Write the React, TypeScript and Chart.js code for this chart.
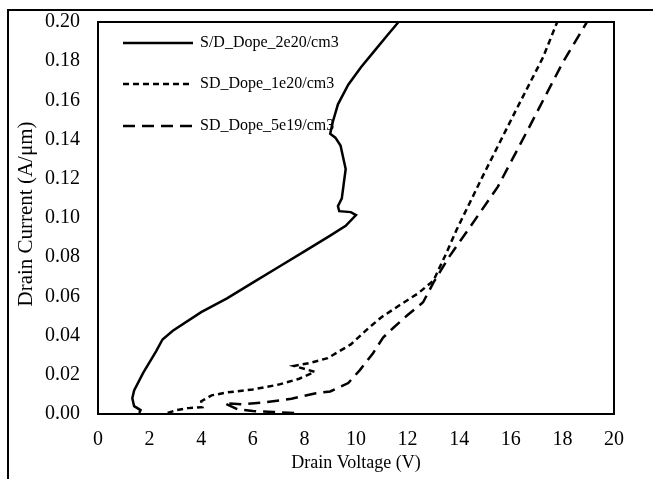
import React, { useEffect, useRef } from "react";
import { Chart, registerables } from "chart.js";

Chart.register(...registerables);

// ---- data ----
const seriesLabels = ["S/D_Dope_2e20/cm3", "SD_Dope_1e20/cm3", "SD_Dope_5e19/cm3"];

const dope2e20X = [1.6, 1.65, 1.4, 1.33, 1.4, 1.75, 2.25, 2.5, 2.9, 4.0, 5.0, 6.0, 7.0, 8.0, 9.0, 9.6, 10.0, 9.8, 9.35, 9.3, 9.45, 9.6, 9.4, 9.2, 9.0, 9.1, 9.3, 9.7, 10.2, 10.7, 11.2, 11.65];
const dope2e20Y = [0.0005, 0.002, 0.004, 0.008, 0.012, 0.021, 0.032, 0.038, 0.0425, 0.052, 0.059, 0.067, 0.075, 0.083, 0.091, 0.096, 0.1015, 0.103, 0.1035, 0.106, 0.11, 0.125, 0.137, 0.141, 0.143, 0.149, 0.158, 0.168, 0.177, 0.185, 0.193, 0.2];

const dope1e20X = [2.7, 3.05, 3.5, 4.05, 4.0, 4.4, 5.0, 6.0, 7.0, 7.8, 8.4, 7.6, 8.2, 8.9, 9.8, 10.5, 11.0, 11.7, 12.4, 13.0, 13.5, 13.9, 14.9, 16.2, 17.25, 17.8];
const dope1e20Y = [0.0005, 0.002, 0.003, 0.0035, 0.0065, 0.0095, 0.011, 0.0125, 0.015, 0.018, 0.0215, 0.0245, 0.026, 0.0285, 0.0355, 0.044, 0.0495, 0.0556, 0.0615, 0.068, 0.082, 0.094, 0.121, 0.155, 0.182, 0.2];

const dope5e19X = [7.6, 6.8, 6.0, 5.4, 4.9, 5.6, 6.5, 7.5, 8.4, 9.0, 9.7, 10.15, 10.66, 11.05, 11.45, 12.0, 12.6, 13.0, 13.6, 14.4, 15.5, 16.7, 18.0, 18.95];
const dope5e19Y = [0.0005, 0.001, 0.0015, 0.0025, 0.0055, 0.005, 0.006, 0.0078, 0.0105, 0.0115, 0.0158, 0.0224, 0.031, 0.039, 0.044, 0.0505, 0.057, 0.067, 0.08, 0.095, 0.116, 0.146, 0.179, 0.2];

const xTickValues = [0, 2, 4, 6, 8, 10, 12, 14, 16, 18, 20];
const yTickValues = [0, 0.02, 0.04, 0.06, 0.08, 0.1, 0.12, 0.14, 0.16, 0.18, 0.2];

const xTitle = "Drain Voltage (V)";
const yTitle = "Drain Current (A/\u03bcm)";

const W = 653;
const H = 479;
const SERIF = "'Liberation Serif', 'Times New Roman', serif";

function toPoints(xs: number[], ys: number[]) {
  return xs.map((x, i) => ({ x, y: ys[i] }));
}

const decorPlugin = {
  id: "decor",
  beforeDraw(chart: any) {
    const ctx = chart.ctx;
    ctx.save();
    ctx.fillStyle = "#ffffff";
    ctx.fillRect(0, 0, chart.width, chart.height);
    ctx.restore();
  },
  afterDraw(chart: any) {
    const ctx = chart.ctx;
    const { left, top, right, bottom } = chart.chartArea;
    ctx.save();
    ctx.strokeStyle = "#000";
    ctx.lineWidth = 2;
    ctx.setLineDash([]);
    ctx.strokeRect(left, top, right - left, bottom - top);

    // outer frame (top + left)
    ctx.beginPath();
    ctx.moveTo(8, H);
    ctx.lineTo(8, 10);
    ctx.lineTo(W, 10);
    ctx.stroke();

    // legend
    const rows = [21, 62, 104];
    chart.data.datasets.forEach((ds: any, i: number) => {
      const y = top + rows[i];
      ctx.beginPath();
      ctx.setLineDash(ds.borderDash || []);
      ctx.lineWidth = ds.borderWidth;
      ctx.strokeStyle = "#000";
      ctx.moveTo(left + 25, y);
      ctx.lineTo(left + 95, y);
      ctx.stroke();
      ctx.setLineDash([]);
      ctx.fillStyle = "#000";
      ctx.font = `16px ${SERIF}`;
      ctx.textAlign = "left";
      ctx.textBaseline = "middle";
      ctx.fillText(ds.label, left + 102, y);
    });

    // axis titles
    ctx.fillStyle = "#000";
    ctx.font = `18px ${SERIF}`;
    ctx.textAlign = "center";
    ctx.textBaseline = "middle";
    ctx.fillText(xTitle, (left + right) / 2, 463);
    ctx.save();
    ctx.translate(26, (top + bottom) / 2 - 4);
    ctx.rotate(-Math.PI / 2);
    ctx.font = `21px ${SERIF}`;
    ctx.fillText(yTitle, 0, 0);
    ctx.restore();
    ctx.restore();
  },
};

export default function App() {
  const ref = useRef<HTMLCanvasElement | null>(null);

  useEffect(() => {
    if (!ref.current) return;
    const chart = new Chart(ref.current, {
      type: "scatter",
      data: {
        datasets: [
          {
            label: seriesLabels[0],
            data: toPoints(dope2e20X, dope2e20Y),
            showLine: true,
            borderColor: "#000",
            borderWidth: 2.5,
            pointRadius: 0,
            tension: 0,
          },
          {
            label: seriesLabels[1],
            data: toPoints(dope1e20X, dope1e20Y),
            showLine: true,
            borderColor: "#000",
            borderWidth: 2.5,
            borderDash: [6, 4],
            pointRadius: 0,
            tension: 0,
          },
          {
            label: seriesLabels[2],
            data: toPoints(dope5e19X, dope5e19Y),
            showLine: true,
            borderColor: "#000",
            borderWidth: 2.5,
            borderDash: [12, 7],
            pointRadius: 0,
            tension: 0,
          },
        ],
      },
      options: {
        responsive: false,
        animation: false,
        events: [],
        layout: { padding: { left: 0, top: 22, right: 39, bottom: 0 } },
        plugins: { legend: { display: false }, tooltip: { enabled: false }, title: { display: false } },
        scales: {
          x: {
            type: "linear",
            min: 0,
            max: 20,
            afterFit: (s: any) => { s.height = 65; s.paddingLeft = 0; s.paddingRight = 0; },
            afterBuildTicks: (s: any) => { s.ticks = xTickValues.map((v) => ({ value: v })); },
            grid: { display: false, drawTicks: false, tickLength: 0 },
            border: { display: false },
            ticks: {
              color: "#000",
              font: { family: SERIF, size: 20 },
              padding: 14,
              maxRotation: 0,
              callback: (v: any) => String(v),
            },
          },
          y: {
            type: "linear",
            min: 0,
            max: 0.2,
            afterFit: (s: any) => { s.width = 98; s.paddingTop = 0; s.paddingBottom = 0; },
            afterBuildTicks: (s: any) => { s.ticks = yTickValues.map((v) => ({ value: v })); },
            grid: { display: false, drawTicks: false, tickLength: 0 },
            border: { display: false },
            ticks: {
              color: "#000",
              font: { family: SERIF, size: 20 },
              padding: 18,
              callback: (v: any) => Number(v).toFixed(2),
            },
          },
        },
      },
      plugins: [decorPlugin],
    } as any);
    return () => chart.destroy();
  }, []);

  return (
    <canvas
      ref={ref}
      width={W}
      height={H}
      style={{ position: "fixed", left: 0, top: 0, width: W, height: H, display: "block" }}
    />
  );
}
